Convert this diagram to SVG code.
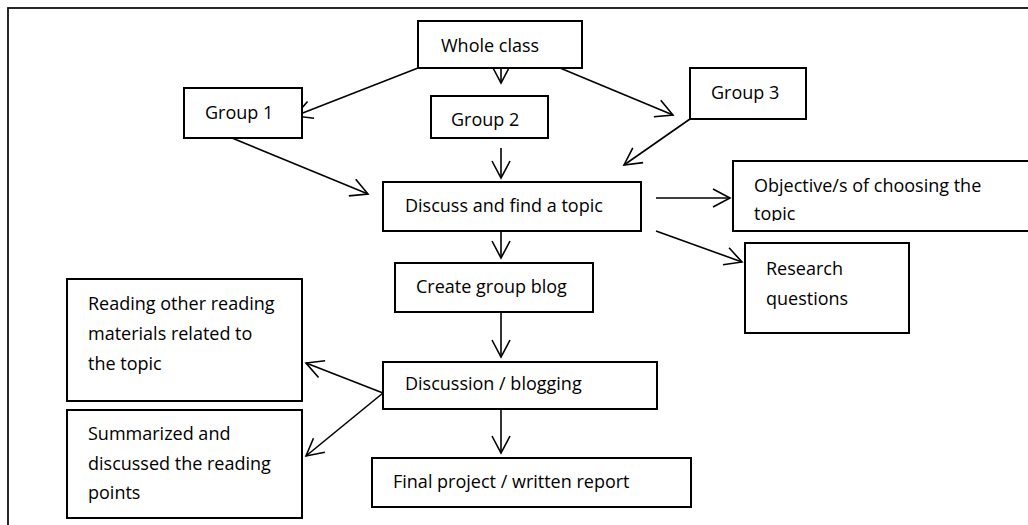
<svg xmlns="http://www.w3.org/2000/svg" width="1028" height="525" viewBox="0 0 1028 525">
<style>
.box{fill:#fff;stroke:#000;stroke-width:2}
.t{font-family:"Open Sans","Liberation Sans",sans-serif;font-size:18px;fill:#000}
.c{fill:none;stroke:#000;stroke-width:1.6}
</style>
<defs>
<marker id="ah" markerUnits="userSpaceOnUse" markerWidth="24" markerHeight="24" viewBox="-20 -12 24 24" refX="0" refY="0" orient="auto">
<path d="M-17,-9 L0,0 L-17,9" fill="none" stroke="#000" stroke-width="1.6"/>
</marker>
<clipPath id="objclip"><rect x="733" y="161" width="300" height="60"/></clipPath>
</defs>
<rect width="1028" height="525" fill="#fff"/>
<rect x="8" y="8" width="1060" height="560" fill="none" stroke="#111" stroke-width="1.8"/>
<g id="connectors">
<line class="c" x1="418" y1="68" x2="295" y2="116" marker-end="url(#ah)"/>
<line class="c" x1="501" y1="68" x2="501" y2="83" marker-end="url(#ah)"/>
<line class="c" x1="560" y1="68" x2="673" y2="115" marker-end="url(#ah)"/>
<line class="c" x1="232" y1="138" x2="368" y2="194" marker-end="url(#ah)"/>
<line class="c" x1="501" y1="148" x2="501" y2="178" marker-end="url(#ah)"/>
<line class="c" x1="690" y1="119" x2="624" y2="165" marker-end="url(#ah)"/>
<line class="c" x1="656" y1="198" x2="730" y2="198" marker-end="url(#ah)"/>
<line class="c" x1="656" y1="231" x2="742" y2="262" marker-end="url(#ah)"/>
<line class="c" x1="501" y1="231" x2="501" y2="258" marker-end="url(#ah)"/>
<line class="c" x1="501" y1="312" x2="501" y2="357" marker-end="url(#ah)"/>
<line class="c" x1="383" y1="393" x2="306" y2="363" marker-end="url(#ah)"/>
<line class="c" x1="383" y1="393" x2="306" y2="456" marker-end="url(#ah)"/>
<line class="c" x1="501" y1="409" x2="501" y2="453" marker-end="url(#ah)"/>
</g>
<g id="whole-class"><rect class="box" x="418" y="21" width="164" height="47"/><text class="t" x="441" y="52">Whole class</text></g>
<g id="group1"><rect class="box" x="184" y="88" width="118" height="50"/><text class="t" x="205" y="119">Group 1</text></g>
<g id="group2"><rect class="box" x="431" y="96" width="117" height="42"/><text class="t" x="451" y="126">Group 2</text></g>
<g id="group3"><rect class="box" x="690" y="68" width="116" height="51"/><text class="t" x="711" y="99">Group 3</text></g>
<g id="discuss"><rect class="box" x="383" y="182" width="258" height="49"/><text class="t" x="405" y="212">Discuss and find a topic</text></g>
<g id="objective"><rect class="box" x="733" y="161" width="320" height="70"/><text class="t" clip-path="url(#objclip)" x="754" y="192">Objective/s of choosing the<tspan x="754" y="220">topic</tspan></text></g>
<g id="research"><rect class="box" x="745" y="243" width="164" height="90"/><text class="t" x="766" y="275">Research<tspan x="766" y="305">questions</tspan></text></g>
<g id="create-blog"><rect class="box" x="395" y="263" width="198" height="49"/><text class="t" x="416" y="293">Create group blog</text></g>
<g id="reading"><rect class="box" x="67" y="279" width="235" height="122"/><text class="t" x="88" y="310">Reading other reading<tspan x="88" y="340">materials related to</tspan><tspan x="88" y="370">the topic</tspan></text></g>
<g id="discussion"><rect class="box" x="383" y="362" width="274" height="47"/><text class="t" x="405" y="390">Discussion / blogging</text></g>
<g id="summarized"><rect class="box" x="67" y="410" width="235" height="108"/><text class="t" x="88" y="440">Summarized and<tspan x="88" y="470">discussed the reading</tspan><tspan x="88" y="499">points</tspan></text></g>
<g id="final"><rect class="box" x="372" y="458" width="319" height="49"/><text class="t" x="393" y="488">Final project / written report</text></g>
</svg>
